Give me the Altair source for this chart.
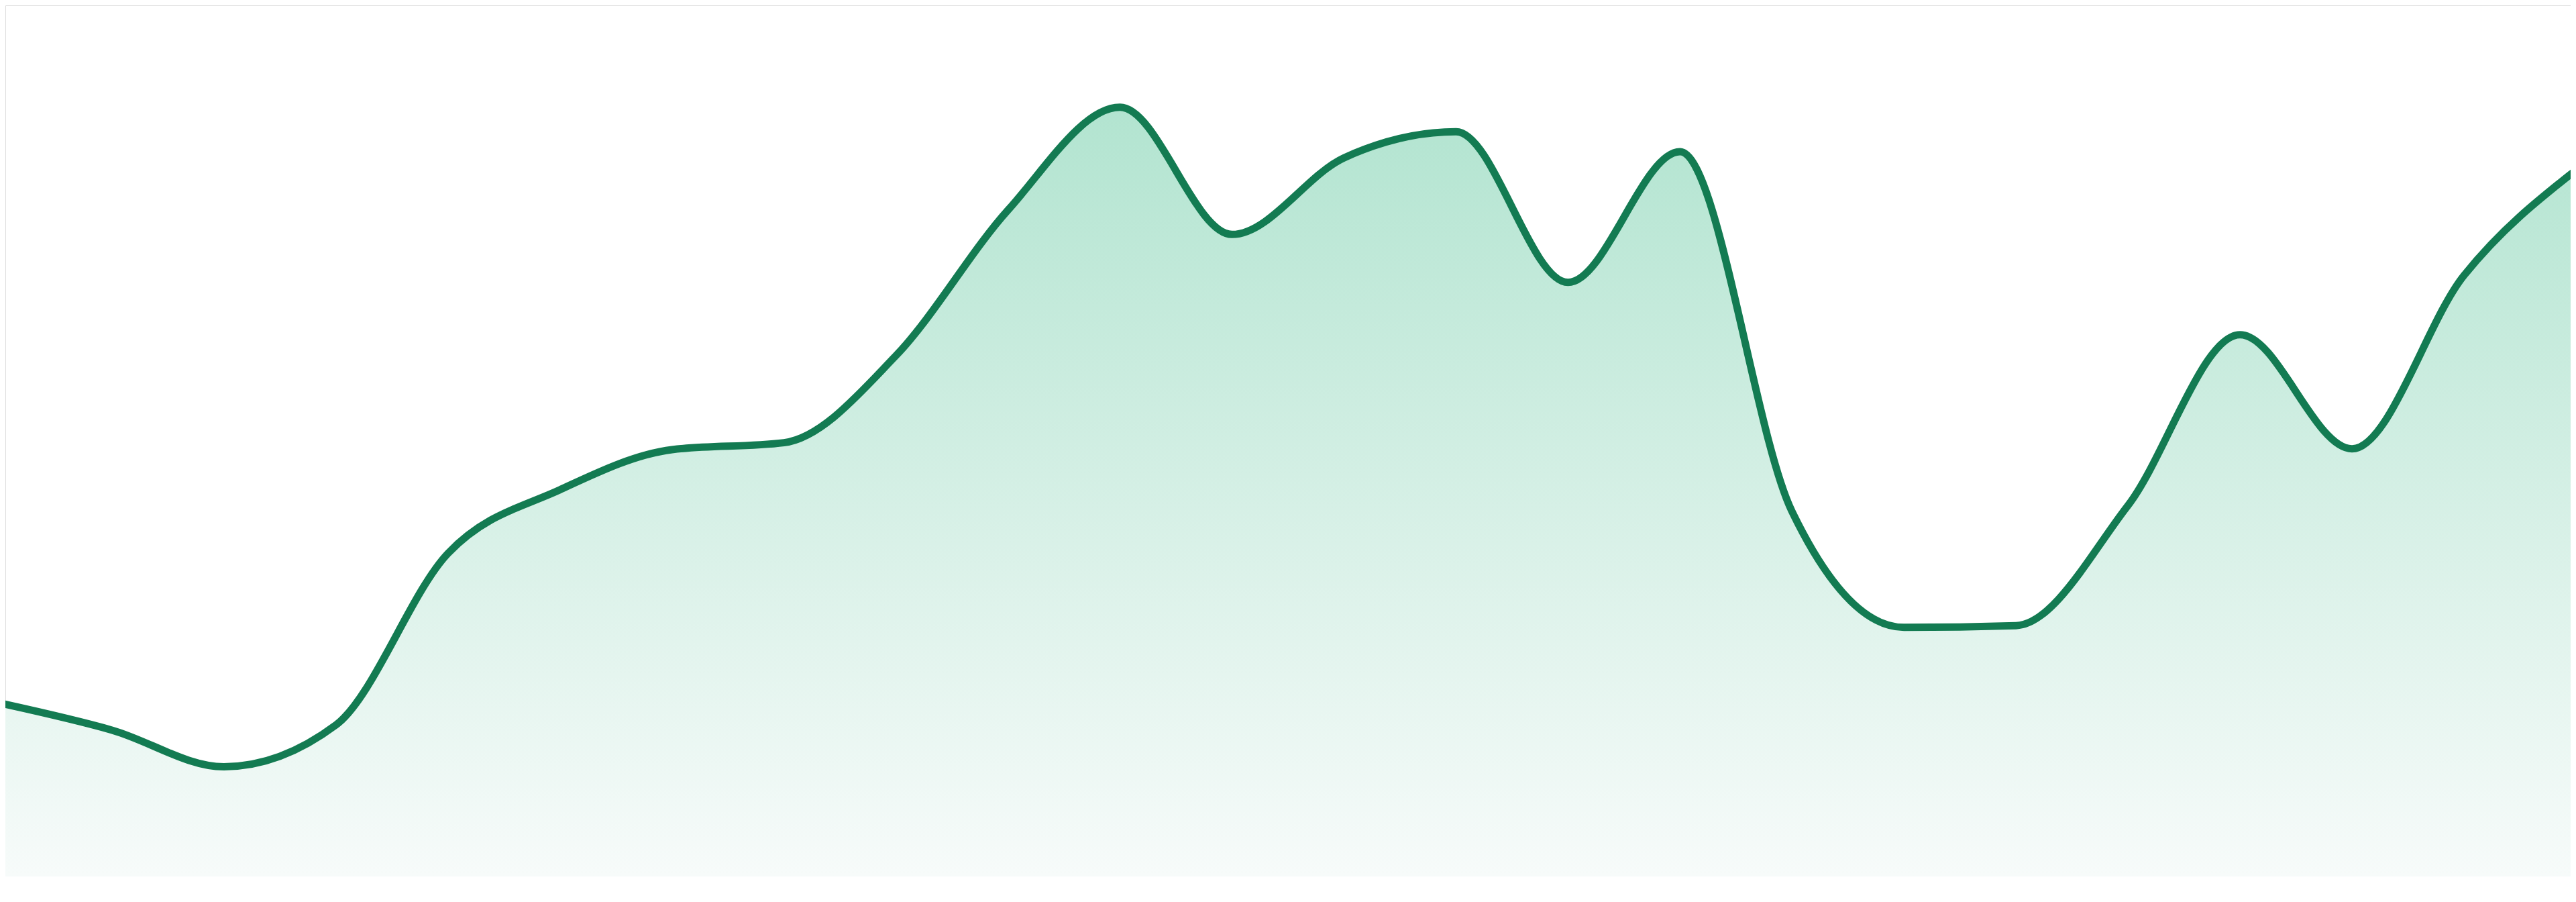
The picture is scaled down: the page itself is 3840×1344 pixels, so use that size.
import altair as alt
import pandas as pd

# point index along the x axis (evenly spaced)
positions = list(range(24))
# series values (0-100 scale)
values = [19.9, 16.8, 12.6, 17.4, 37.1, 44.4, 49.0, 49.8, 59.8, 76.5, 88.3, 73.7,
          82.5, 85.5, 68.2, 83.2, 41.9, 28.6, 28.8, 42.6, 62.2, 49.1, 69.0, 81.1]

df = pd.DataFrame({"pos": positions, "value": values})

step = 3840 / 23.0
x_scale = alt.Scale(domain=[8 / step, 3832 / step], nice=False, zero=False)
y_scale = alt.Scale(domain=[0, 100], nice=False, zero=True)

base = alt.Chart(df).encode(
    x=alt.X("pos:Q", scale=x_scale, axis=None),
    y=alt.Y("value:Q", scale=y_scale, axis=None),
)

area = base.mark_area(
    interpolate="monotone",
    clip=True,
    fill=alt.Gradient(
        gradient="linear",
        stops=[
            alt.GradientStop(color="#b2e4d0", offset=0),
            alt.GradientStop(color="#f7fbfa", offset=1),
        ],
        x1=0, x2=0, y1=0, y2=1,
    ),
)

line = base.mark_line(
    interpolate="monotone",
    clip=True,
    color="#137b52",
    strokeWidth=11,
    strokeCap="round",
    strokeJoin="round",
)

chart = (
    alt.layer(area, line)
    .properties(width=3824, height=1298, padding=0, autosize=alt.AutoSizeParams(type="none"))
    .configure_view(strokeWidth=0, stroke="transparent", fill="transparent")
    .configure(background="transparent")
)

chart.save("out.html", embed_options={"renderer": "svg", "actions": False})
